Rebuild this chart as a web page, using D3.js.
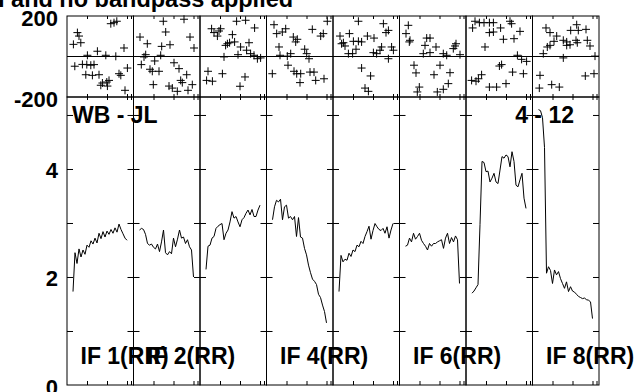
<!DOCTYPE html>
<html>
<head>
<meta charset="utf-8">
<title>Amplitude and phase per IF</title>
<style>
  body { margin: 0; background: #fff; }
  svg { display: block; }
  text { font-family: "Liberation Sans", Arial, Helvetica, sans-serif; font-weight: bold; fill: #000; }
  .frame { fill: none; stroke: #000; stroke-width: 1; }
  .tick line { stroke: #000; }
  .domain { display: none; }
</style>
</head>
<body>
<div id="chart"></div>
<script src="https://d3js.org/d3.v7.min.js"></script>
<script>

// channel numbers along each panel
var channels = [3,4,5,6,7,8,9,10,11,12,13,14,15,16,17,18,19,20,21,22,23,24,25,26,27,28,29,30];

// amplitude per channel, one array per IF
var ampIF1 = [1.73,2.45,2.25,2.52,2.37,2.50,2.42,2.59,2.55,2.67,2.61,2.72,2.63,2.81,2.71,2.84,2.74,2.85,2.79,2.88,2.81,2.91,2.83,2.98,2.88,2.80,2.72,2.68];
var ampIF2 = [2.87,2.90,2.88,2.79,2.62,2.59,2.61,2.55,2.52,2.61,2.47,2.65,2.87,2.45,2.41,2.47,2.43,2.72,2.56,2.70,2.87,2.72,2.74,2.62,2.69,2.56,2.50,2.00];
var ampIF3 = [2.14,2.57,2.59,2.72,2.75,2.90,2.94,2.97,2.99,2.69,2.81,2.87,3.02,3.21,3.09,3.12,3.02,2.93,3.06,3.10,3.18,3.24,3.15,3.25,3.12,3.12,3.24,3.33];
var ampIF4 = [3.06,3.30,3.42,3.39,3.44,3.06,3.30,3.33,3.09,3.12,3.06,3.12,2.75,3.10,2.74,2.72,2.53,2.41,2.22,2.08,1.96,1.92,1.86,1.68,1.62,1.48,1.36,1.15];
var ampIF5 = [1.73,2.40,2.28,2.33,2.31,2.44,2.38,2.50,2.47,2.59,2.56,2.66,2.62,2.75,2.84,2.94,2.70,2.86,2.99,2.93,2.88,2.86,2.90,2.81,2.93,2.72,2.87,2.99];
var ampIF6 = [2.57,2.59,2.72,2.65,2.81,2.70,2.75,2.81,2.68,2.62,2.57,2.50,2.62,2.57,2.62,2.62,2.65,2.67,2.69,2.53,2.72,2.81,2.62,2.73,2.65,2.76,2.69,1.88];
var ampIF7 = [1.70,1.74,1.80,1.86,2.97,4.14,4.12,3.95,3.96,3.76,3.83,3.92,3.76,3.73,3.98,4.23,4.20,4.26,4.23,4.04,4.32,4.14,3.70,3.67,3.80,3.92,3.46,3.27];
var ampIF8 = [5.10,5.08,4.95,4.40,2.07,2.19,2.12,1.88,2.13,2.04,2.10,1.97,1.88,1.79,1.91,1.73,1.82,1.74,1.72,1.68,1.64,1.62,1.60,1.61,1.58,1.57,1.54,1.23];

// phase points [position, degrees], one array per IF
var phaseIF1 = [[5.2,118],[6.0,101],[3.2,60],[6.9,68],[21.9,162],[23.5,167],[24.9,174],[15.2,26],[10.2,6],[19.4,6],[24.4,1],[28.5,42],[3.9,-48],[7.7,-39],[9.9,-40],[11.9,-43],[13.5,-40],[9.4,-90],[12.7,-93],[16.0,-90],[17.7,-131],[19.9,-126],[21.0,-118],[16.9,-142],[20.2,-146],[26.0,-85],[26.9,-93],[30.2,-57],[29.0,-167]];
var phaseIF2 = [[3.25,96],[6.9,63],[6.1,9],[5.25,-2],[14.9,174],[16.1,121],[25.25,184],[28.25,96],[30.25,42],[14.1,50],[18.25,58],[10.6,-22],[13.6,6],[3.9,-40],[8.25,-63],[9.4,-73],[12.75,-73],[20.25,-31],[22.75,-60],[26.6,-90],[23.6,-118],[24.4,-129],[9.9,-139],[17.75,-146],[19.4,-156],[21.9,-172],[27.25,-167],[29.4,-139]];
var phaseIF3 = [[5.8,137],[7.0,118],[9.5,126],[10.3,137],[8.7,101],[16.2,108],[18.3,174],[22.8,179],[27.3,141],[13.7,63],[12.8,55],[14.8,68],[17.3,72],[20.3,47],[24.5,68],[23.3,31],[25.3,14],[27.0,6],[28.7,-11],[30.3,-7],[19.0,9],[12.0,-2],[4.0,-73],[6.2,-122],[3.3,-118],[11.2,-85],[22.5,-101],[20.0,-147]];
var phaseIF4 = [[3.75,157],[5.1,113],[7.9,121],[9.6,137],[6.25,47],[13.4,96],[14.6,72],[15.4,85],[22.9,134],[27.1,101],[28.4,113],[30.4,174],[6.75,6],[12.1,14],[10.4,2],[19.1,36],[20.1,14],[21.25,-11],[2.9,-85],[10.75,-43],[13.75,-73],[15.1,-85],[17.1,-85],[21.75,-77],[23.75,-77],[16.75,-129],[24.6,-118],[28.75,-110]];
var phaseIF5 = [[12.7,174],[3.5,101],[8.2,113],[5.2,68],[4.3,63],[6.0,52],[10.2,75],[12.7,75],[14.3,72],[17.2,101],[20.5,91],[25.2,162],[27.7,129],[26.5,118],[7.7,14],[9.8,14],[11.5,36],[20.2,19],[21.8,14],[23.5,31],[24.3,47],[29.3,47],[30.2,31],[27.7,-11],[14.3,-57],[18.8,-96],[16.0,-156],[17.7,-172]];
var phaseIF6 = [[4.4,154],[3.25,113],[5.25,80],[4.9,72],[13.6,91],[15.25,91],[12.75,55],[11.9,14],[15.25,19],[18.25,47],[21.9,14],[23.6,6],[26.9,39],[28.25,63],[27.75,52],[30.25,9],[7.25,-43],[8.25,-81],[17.25,-90],[20.25,-43],[25.25,-80],[24.4,-134],[9.9,-151],[8.9,-175],[18.9,-175],[21.9,-162]];
var phaseIF7 = [[4.5,174],[6.7,167],[9.0,167],[11.7,167],[13.7,167],[22.0,174],[22.8,162],[3.3,141],[11.7,118],[13.7,121],[17.3,141],[27.0,124],[24.0,88],[18.7,85],[9.5,47],[25.7,6],[27.8,-14],[30.3,-24],[17.8,-40],[16.7,-47],[23.3,-77],[28.7,-85],[7.8,-90],[6.2,-110],[5.0,-122],[2.8,-118],[11.7,-151],[15.3,-151],[20.0,-134]];
var phaseIF8 = [[6.75,141],[8.75,118],[12.1,101],[10.75,75],[15.4,80],[17.1,72],[19.1,129],[22.1,157],[22.9,129],[26.75,134],[21.75,80],[18.75,58],[17.1,55],[22.4,68],[27.4,80],[28.75,52],[7.4,47],[8.75,55],[5.4,14],[15.4,-7],[31.25,2],[3.75,-93],[3.4,-156],[9.6,-139],[13.4,-151],[26.4,-96],[30.75,-85]];

var ifLabels  = ["IF 1(RR)", "IF 2(RR)", "", "IF 4(RR)", "", "IF 6(RR)", "", "IF 8(RR)"];
var ampTicks  = [0, 2, 4];
var phaseTicks = [-200, 200];

var amps   = [ampIF1, ampIF2, ampIF3, ampIF4, ampIF5, ampIF6, ampIF7, ampIF8];
var phases = [phaseIF1, phaseIF2, phaseIF3, phaseIF4, phaseIF5, phaseIF6, phaseIF7, phaseIF8];

var width = 642, height = 392;
var plotLeft = 67, plotRight = 599,
    phaseTop = 16, phaseBottom = 97, ampBottom = 385;

var svg = d3.select("#chart").append("svg")
    .attr("width", width)
    .attr("height", height);

var panelX = d3.scaleLinear().domain([0, 8]).range([plotLeft, plotRight]);
var panelW = panelX(1) - panelX(0);

var yPhase = d3.scaleLinear().domain([-200, 200]).range([phaseBottom, phaseTop]);
var yAmp = d3.scaleLinear().domain([0, 5.333]).range([ampBottom, phaseBottom]);

// title (runs off the top of the page like the original)
svg.append("text")
    .attr("x", -2)
    .attr("y", 6.5)
    .style("font-size", "23.5px")
    .text("I and no bandpass applied");

amps.forEach(function(amp, i){
    var left = panelX(i);
    var x = d3.scaleLinear().domain([0, 33.25]).range([left, left + panelW]);
    var g = svg.append("g");

    // phase box + zero line
    g.append("rect").attr("class", "frame")
        .attr("x", left).attr("y", phaseTop)
        .attr("width", panelW).attr("height", phaseBottom - phaseTop);
    g.append("line")
        .attr("x1", left).attr("x2", left + panelW)
        .attr("y1", yPhase(0)).attr("y2", yPhase(0))
        .attr("stroke", "#000");

    // amplitude box
    g.append("rect").attr("class", "frame")
        .attr("x", left).attr("y", phaseBottom)
        .attr("width", panelW).attr("height", ampBottom - phaseBottom);

    // inward ticks on every side
    var xt = [10, 20, 30, 32];
    g.append("g").attr("transform", "translate(0," + phaseTop + ")")
        .call(d3.axisTop(x).tickValues(xt).tickSize(-3).tickFormat(""));
    g.append("g").attr("transform", "translate(0," + phaseBottom + ")")
        .call(d3.axisBottom(x).tickValues(xt).tickSize(-3).tickFormat(""));
    g.append("g").attr("transform", "translate(0," + phaseBottom + ")")
        .call(d3.axisTop(x).tickValues(xt).tickSize(-3).tickFormat(""));
    g.append("g").attr("transform", "translate(0," + ampBottom + ")")
        .call(d3.axisBottom(x).tickValues(xt).tickSize(-4).tickFormat(""));
    g.append("g").attr("transform", "translate(" + left + ",0)")
        .call(d3.axisLeft(yAmp).tickValues([1, 2, 3, 4, 5]).tickSize(-6).tickFormat(""));
    g.append("g").attr("transform", "translate(" + (left + panelW) + ",0)")
        .call(d3.axisRight(yAmp).tickValues([1, 2, 3, 4, 5]).tickSize(-6).tickFormat(""));

    // phase crosses
    g.append("g").selectAll("path")
        .data(phases[i])
        .enter().append("path")
        .attr("transform", function(d){ return "translate(" + x(d[0]) + "," + yPhase(d[1]) + ")"; })
        .attr("d", "M-4,0H4M0,-4V4")
        .attr("stroke", "#000")
        .attr("stroke-width", 1)
        .attr("fill", "none");

    // amplitude trace
    var line = d3.line()
        .x(function(d, j){ return x(channels[j]); })
        .y(function(d){ return yAmp(d); });
    g.append("path")
        .datum(amp)
        .attr("d", line)
        .attr("fill", "none")
        .attr("stroke", "#000")
        .attr("stroke-width", 1);

    if (ifLabels[i]) {
        svg.append("text")
            .attr("x", left + 13.5)
            .attr("y", 364)
            .style("font-size", "23px")
            .text(ifLabels[i]);
    }
});

// baseline / station labels
svg.append("text")
    .attr("x", 72).attr("y", 123)
    .style("font-size", "23px")
    .text("WB - JL");
svg.append("text")
    .attr("x", 574).attr("y", 123)
    .attr("text-anchor", "end")
    .style("font-size", "23px")
    .text("4 - 12");

// y tick labels
svg.selectAll(".plab")
    .data(phaseTicks)
    .enter().append("text")
    .attr("x", 58)
    .attr("y", function(d){ return yPhase(d) + 10; })
    .attr("text-anchor", "end")
    .style("font-size", "22px")
    .text(function(d){ return d; });

svg.selectAll(".alab")
    .data(ampTicks)
    .enter().append("text")
    .attr("x", 58)
    .attr("y", function(d){ return yAmp(d) + 9.5; })
    .attr("text-anchor", "end")
    .style("font-size", "22px")
    .text(function(d){ return d; });

</script>
</body>
</html>
